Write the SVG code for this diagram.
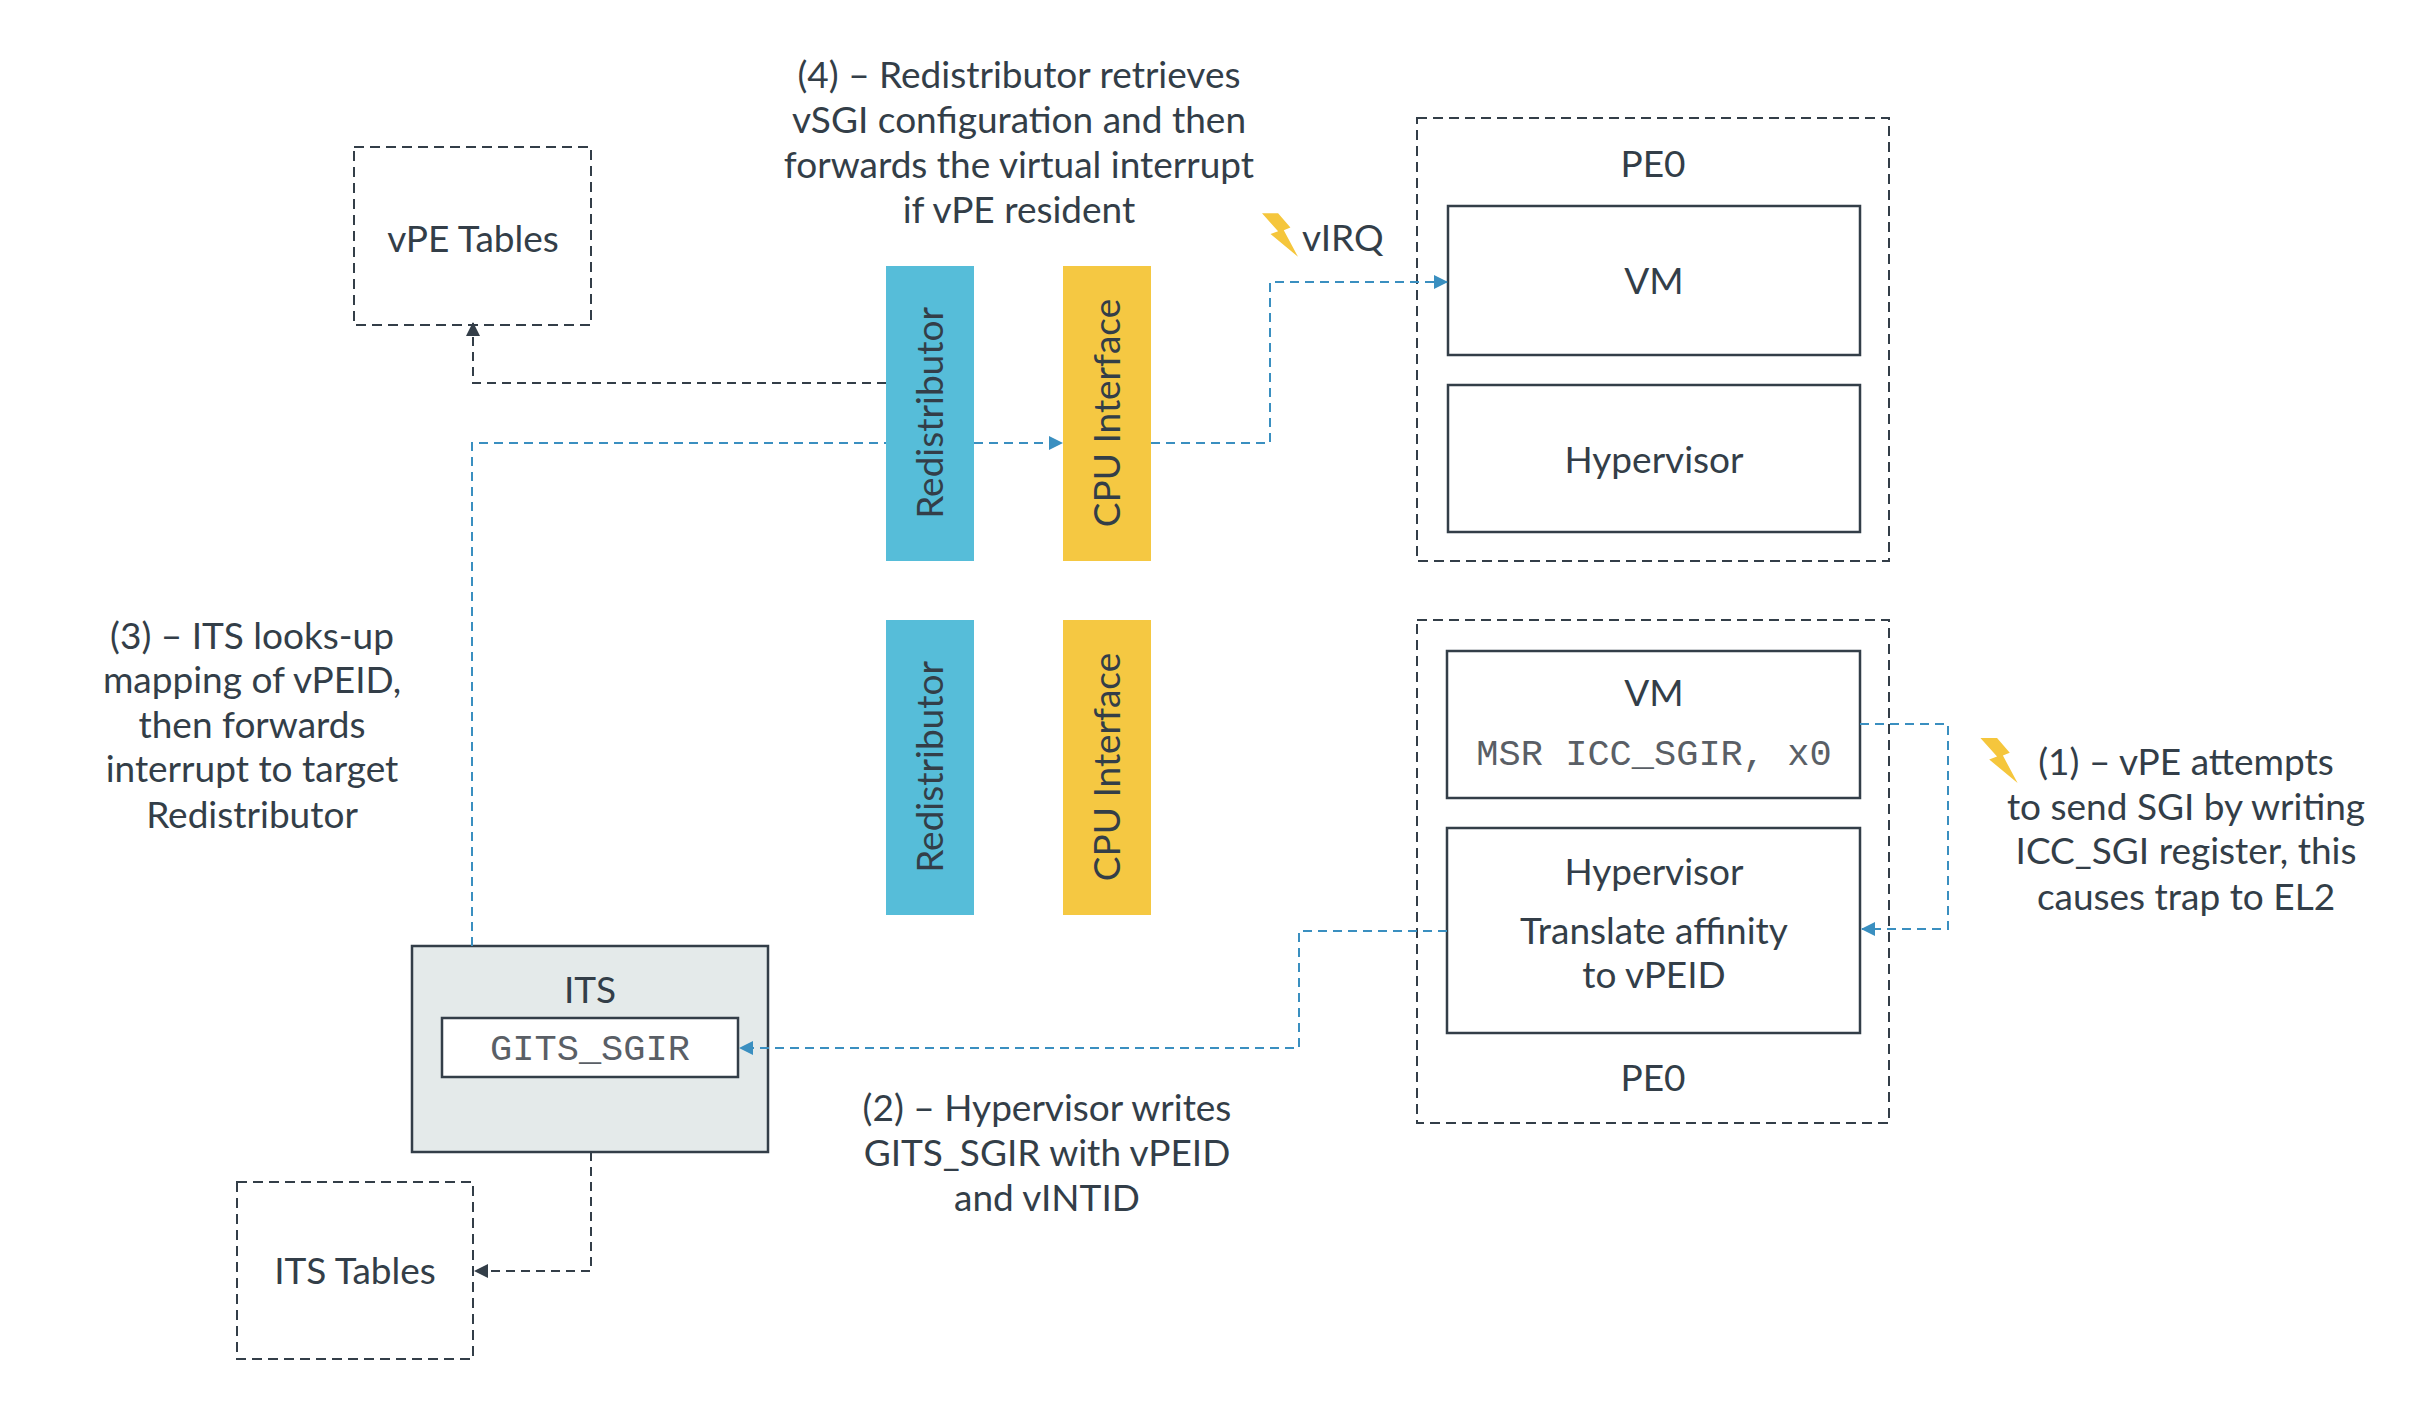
<svg xmlns="http://www.w3.org/2000/svg" width="2422" height="1418" viewBox="0 0 2422 1418">
<defs>
<style>
.t{font-family:Lato,"Liberation Sans",sans-serif;font-size:37px;fill:#333e48;text-anchor:middle}
.m{font-family:"Liberation Mono",monospace;font-size:37px;fill:#5a5f66;text-anchor:middle}
.box{fill:#fff;stroke:#333e48;stroke-width:2.5}
.dbox{fill:none;stroke:#333e48;stroke-width:2;stroke-dasharray:10 6}
.bl{fill:none;stroke:#3a8fc0;stroke-width:2;stroke-dasharray:9 6}
.dk{fill:none;stroke:#333e48;stroke-width:2;stroke-dasharray:9 6}
</style>
<marker id="ab" markerWidth="14" markerHeight="14" refX="13" refY="7" orient="auto" markerUnits="userSpaceOnUse"><path d="M0,0 L14,7 L0,14z" fill="#3a8fc0"/></marker>
<marker id="ad" markerWidth="14" markerHeight="14" refX="13" refY="7" orient="auto" markerUnits="userSpaceOnUse"><path d="M0,0 L14,7 L0,14z" fill="#333e48"/></marker>
<symbol id="bolt" viewBox="0 0 38 46"><polygon points="0,0 17,0 30,15 23,18 38,46 9,22 17,19" fill="#f5c63c"/></symbol>
</defs>
<g id="vpe-tables"><rect class="dbox" x="354" y="147" width="237" height="178"/><text class="t" x="473" y="252">vPE Tables</text></g>
<g id="redist-top"><rect x="886" y="266" width="88" height="295" fill="#56bdd9"/><text class="t" transform="translate(943,413) rotate(-90)">Redistributor</text></g>
<g id="cpu-top"><rect x="1063" y="266" width="88" height="295" fill="#f5c842"/><text class="t" transform="translate(1120,413) rotate(-90)">CPU Interface</text></g>
<g id="redist-bot"><rect x="886" y="620" width="88" height="295" fill="#56bdd9"/><text class="t" transform="translate(943,767) rotate(-90)">Redistributor</text></g>
<g id="cpu-bot"><rect x="1063" y="620" width="88" height="295" fill="#f5c842"/><text class="t" transform="translate(1120,767) rotate(-90)">CPU Interface</text></g>
<g id="its"><rect x="412" y="946" width="356" height="206" fill="#e4eaea" stroke="#333e48" stroke-width="2.5"/><text class="t" x="590" y="1003">ITS</text>
<rect class="box" x="442" y="1018" width="296" height="59"/><text class="m" x="590" y="1060">GITS_SGIR</text></g>
<g id="its-tables"><rect class="dbox" x="237" y="1182" width="236" height="177"/><text class="t" x="355" y="1284">ITS Tables</text></g>
<g id="pe0-top"><rect class="dbox" x="1417" y="118" width="472" height="443"/><text class="t" x="1653" y="177">PE0</text>
<g id="vm-top"><rect class="box" x="1448" y="206" width="412" height="149"/><text class="t" x="1654" y="294">VM</text></g>
<g id="hyp-top"><rect class="box" x="1448" y="385" width="412" height="147"/><text class="t" x="1654" y="473">Hypervisor</text></g></g>
<g id="pe0-bot"><rect class="dbox" x="1417" y="620" width="472" height="503"/><text class="t" x="1653" y="1091">PE0</text>
<g id="vm-bot"><rect class="box" x="1447" y="651" width="413" height="147"/><text class="t" x="1654" y="706">VM</text><text class="m" x="1654" y="765">MSR ICC_SGIR, x0</text></g>
<g id="hyp-bot"><rect class="box" x="1447" y="828" width="413" height="205"/><text class="t" x="1654" y="885">Hypervisor</text><text class="t" x="1654" y="944">Translate affinity</text><text class="t" x="1654" y="988">to vPEID</text></g></g>
<g id="connectors">
<polyline class="dk" points="886,383 473,383 473,323" marker-end="url(#ad)"/>
<polyline class="bl" points="472,946 472,443 886,443"/>
<polyline class="bl" points="974,443 1062,443" marker-end="url(#ab)"/>
<polyline class="bl" points="1151,443 1270,443 1270,282 1447,282" marker-end="url(#ab)"/>
<polyline class="bl" points="1860,724 1948,724 1948,929 1862,929" marker-end="url(#ab)"/>
<polyline class="bl" points="1447,931 1299,931 1299,1048 740,1048" marker-end="url(#ab)"/>
<polyline class="dk" points="591,1152 591,1271 475,1271" marker-end="url(#ad)"/>
</g>
<g id="label4"><text class="t" x="1019" y="88">(4) – Redistributor retrieves</text><text class="t" x="1019" y="133">vSGI configuration and then</text><text class="t" x="1019" y="178">forwards the virtual interrupt</text><text class="t" x="1019" y="223">if vPE resident</text></g>
<g id="virq"><use href="#bolt" x="1262" y="213" width="36" height="44"/><text class="t" x="1302" y="251" style="text-anchor:start">vIRQ</text></g>
<g id="label3"><text class="t" x="252" y="649">(3) – ITS looks-up</text><text class="t" x="252" y="693">mapping of vPEID,</text><text class="t" x="252" y="738">then forwards</text><text class="t" x="252" y="782">interrupt to target</text><text class="t" x="252" y="828">Redistributor</text></g>
<g id="label2"><text class="t" x="1047" y="1121">(2) – Hypervisor writes</text><text class="t" x="1047" y="1166">GITS_SGIR with vPEID</text><text class="t" x="1047" y="1211">and vINTID</text></g>
<g id="label1"><use href="#bolt" x="1980" y="738" width="38" height="45"/><text class="t" x="2186" y="775">(1) – vPE attempts</text><text class="t" x="2186" y="820">to send SGI by writing</text><text class="t" x="2186" y="864">ICC_SGI register, this</text><text class="t" x="2186" y="910">causes trap to EL2</text></g>
</svg>
